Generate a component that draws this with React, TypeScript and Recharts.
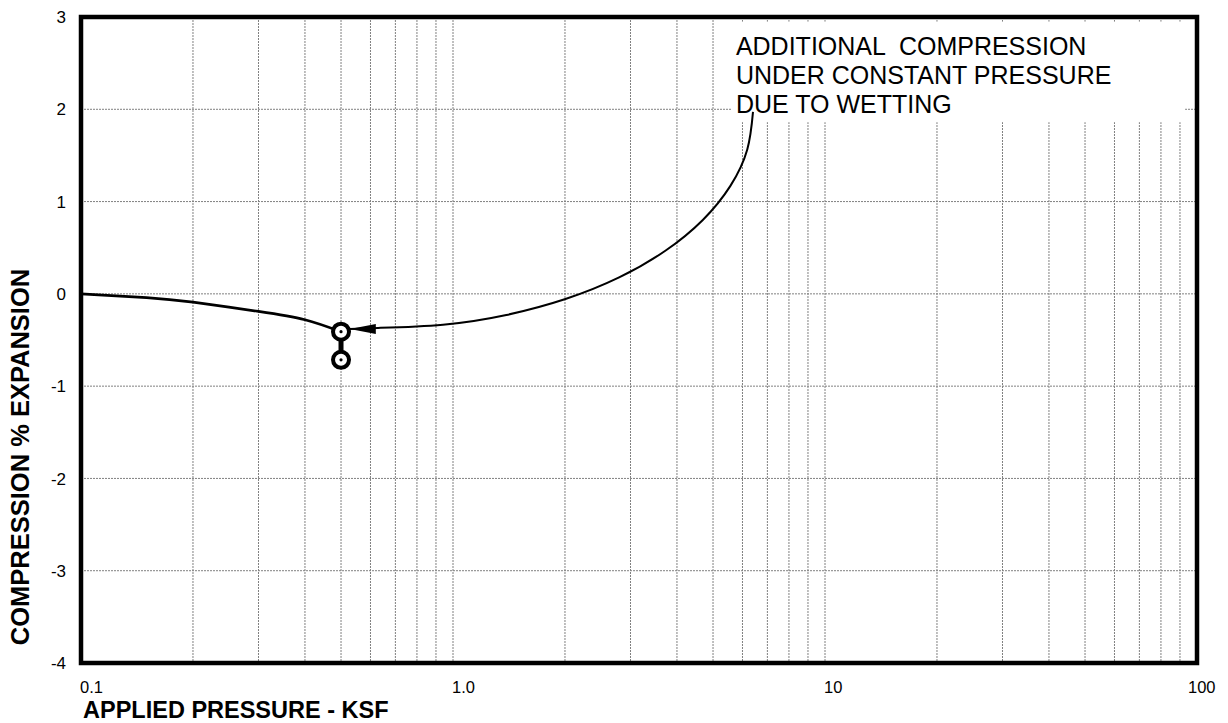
import React from 'react';
import { ComposedChart, Line, XAxis, YAxis, CartesianGrid, ReferenceArea } from 'recharts';

// consolidation test: pressure (ksf) vs strain (%)
const xTicks = [
  0.1, 0.2, 0.3, 0.4, 0.5, 0.6, 0.7, 0.8, 0.9,
  1, 2, 3, 4, 5, 6, 7, 8, 9,
  10, 20, 30, 40, 50, 60, 70, 80, 90, 100,
];
const xLabelValues = [0.1, 1, 10, 100];
const xLabelText = ['0.1', '1.0', '10', '100'];
const yTicks = [-4, -3, -2, -1, 0, 1, 2, 3];

const pressure = [0.1, 0.15, 0.2, 0.3, 0.4, 0.5];
const strain = [0, -0.04, -0.09, -0.19, -0.28, -0.41];

const wetPressure = [0.5, 0.5];
const wetStrain = [-0.41, -0.715];

const arrowPressure = [0.528, 0.629, 0.94, 1.391, 2.006, 2.796, 3.722, 4.694, 5.568, 6.181, 6.404];
const arrowStrain = [-0.38, -0.369, -0.334, -0.229, -0.056, 0.178, 0.467, 0.801, 1.17, 1.564, 1.971];

const noteLines = ['ADDITIONAL  COMPRESSION', 'UNDER CONSTANT PRESSURE', 'DUE TO WETTING'];

const curveData = pressure.map((p, i) => ({ p, s: strain[i] }));
const wetData = wetPressure.map((p, i) => ({ p, s: wetStrain[i] }));
const arrowData = arrowPressure.map((p, i) => ({ p, s: arrowStrain[i] }));

const FONT = '"Liberation Sans", Arial, Helvetica, sans-serif';

function XTick(props: any) {
  const { x, y, payload } = props;
  const i = xLabelValues.indexOf(payload.value);
  if (i < 0) return <g />;
  const dx = i === xLabelValues.length - 1 ? -9 : -1;
  return (
    <text x={x + dx} y={y + 30} textAnchor="start" fontSize={16.5} fontFamily={FONT} fill="#000">
      {xLabelText[i]}
    </text>
  );
}

function YTick(props: any) {
  const { x, y, payload } = props;
  return (
    <text x={x} y={y} dy="0.36em" textAnchor="end" fontSize={17} fontFamily={FONT} fill="#000">
      {payload.value}
    </text>
  );
}

function WetDot(props: any) {
  const { cx, cy, index } = props;
  return (
    <g key={`wet-${index}`}>
      <circle cx={cx} cy={cy} r={8} fill="#fff" stroke="#000" strokeWidth={4} />
      <circle cx={cx} cy={cy} r={1.6} fill="#000" />
    </g>
  );
}

function ArrowHead(props: any) {
  const { cx, cy, index } = props;
  if (index !== 0) return <g key={`ah-${index}`} />;
  return (
    <polygon
      key="ah-0"
      points={`${cx},${cy} ${cx + 26},${cy - 5} ${cx + 26},${cy + 5}`}
      fill="#000"
    />
  );
}

function NoteBox(props: any) {
  const { x, y, width, height } = props;
  return (
    <g>
      <rect x={x} y={y} width={width} height={height} fill="#fff" />
      {noteLines.map((t, i) => (
        <text
          key={i}
          x={x + 4}
          y={y + 33 + i * 29}
          fontSize={25}
          fontFamily={FONT}
          fill="#000"
          style={{ whiteSpace: 'pre' }}
        >
          {t}
        </text>
      ))}
    </g>
  );
}

function Frame(props: any) {
  const { x, y, width, height } = props;
  return <rect x={x} y={y} width={width} height={height} fill="none" stroke="#000" strokeWidth={4.5} />;
}

export default function App() {
  return (
    <div style={{ position: 'absolute', left: 0, top: 0, width: 1228, height: 723, background: '#fff' }}>
      <ComposedChart width={1228} height={723} margin={{ top: 17, right: 31, bottom: 0, left: 0 }}>
        <CartesianGrid stroke="#808080" strokeDasharray="2 1" strokeWidth={1} />
        <XAxis
          dataKey="p"
          type="number"
          scale="log"
          domain={[0.1, 100]}
          ticks={xTicks}
          interval={0}
          allowDataOverflow
          axisLine={false}
          tickLine={false}
          tickSize={0}
          tickMargin={0}
          height={60}
          tick={<XTick />}
          label={{
            content: () => (
              <text x={83} y={718} fontSize={23.5} fontWeight="bold" fontFamily={FONT} fill="#000">
                APPLIED PRESSURE - KSF
              </text>
            ),
          }}
        />
        <YAxis
          type="number"
          domain={[-4, 3]}
          ticks={yTicks}
          interval={0}
          allowDataOverflow
          axisLine={false}
          tickLine={false}
          tickSize={0}
          tickMargin={15}
          width={81}
          tick={<YTick />}
          label={{
            content: () => (
              <text
                x={20}
                y={457}
                transform="rotate(-90 20 457)"
                textAnchor="middle"
                dy="0.36em"
                fontSize={25.5}
                fontWeight="bold"
                fontFamily={FONT}
                fill="#000"
              >
                COMPRESSION % EXPANSION
              </text>
            ),
          }}
        />
        <ReferenceArea x1={5.62} x2={92.9} y1={1.86} y2={2.95} shape={<NoteBox />} />
        <ReferenceArea x1={0.1} x2={100} y1={-4} y2={3} ifOverflow="visible" shape={<Frame />} />
        <Line
          data={curveData}
          dataKey="s"
          type="natural"
          stroke="#000"
          strokeWidth={2.7}
          dot={false}
          activeDot={false}
          isAnimationActive={false}
        />
        <Line
          data={arrowData}
          dataKey="s"
          type="natural"
          stroke="#000"
          strokeWidth={2}
          dot={<ArrowHead />}
          activeDot={false}
          isAnimationActive={false}
        />
        <Line
          data={wetData}
          dataKey="s"
          type="linear"
          stroke="#000"
          strokeWidth={5}
          dot={<WetDot />}
          activeDot={false}
          isAnimationActive={false}
        />
      </ComposedChart>
    </div>
  );
}
